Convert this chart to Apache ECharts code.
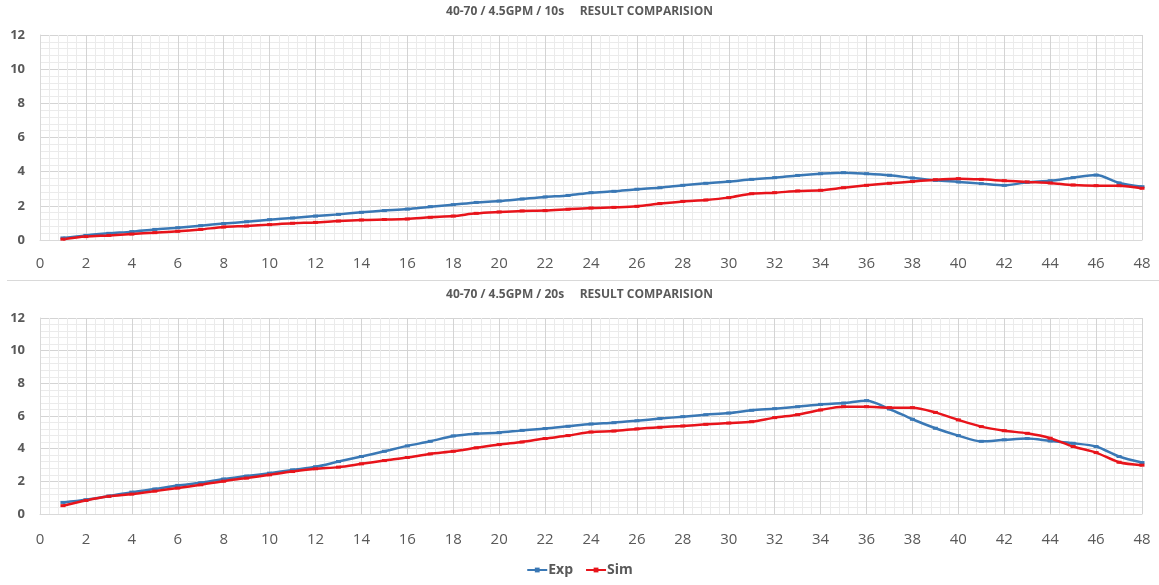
<!DOCTYPE html>
<html>
<head>
<meta charset="utf-8">
<script src="https://cdn.jsdelivr.net/npm/echarts@6/dist/echarts.min.js"></script>
<style>
html,body{margin:0;padding:0;background:#fff;}
#c{width:1159px;height:585px;}
</style>
</head>
<body>
<div id="c"></div>
<script>
var xs = [1,2,3,4,5,6,7,8,9,10,11,12,13,14,15,16,17,18,19,20,21,22,23,24,25,26,27,28,29,30,31,32,33,34,35,36,37,38,39,40,41,42,43,44,45,46,47,48];
var title10 = '40-70 / 4.5GPM / 10s     RESULT COMPARISION';
var title20 = '40-70 / 4.5GPM / 20s     RESULT COMPARISION';
var exp10 = [0.12,0.27,0.39,0.49,0.62,0.72,0.84,0.96,1.07,1.19,1.29,1.40,1.50,1.62,1.72,1.81,1.95,2.07,2.20,2.28,2.40,2.52,2.61,2.77,2.85,2.97,3.06,3.20,3.32,3.42,3.55,3.65,3.78,3.88,3.94,3.88,3.79,3.63,3.49,3.40,3.30,3.20,3.38,3.47,3.65,3.80,3.34,3.12];
var sim10 = [0.05,0.20,0.27,0.35,0.43,0.51,0.62,0.76,0.82,0.90,0.98,1.03,1.11,1.17,1.20,1.23,1.33,1.40,1.56,1.64,1.70,1.72,1.80,1.87,1.91,1.97,2.13,2.26,2.34,2.48,2.71,2.77,2.87,2.91,3.06,3.20,3.32,3.42,3.53,3.59,3.55,3.47,3.40,3.34,3.22,3.18,3.18,3.03];
var exp20 = [0.71,0.87,1.10,1.34,1.53,1.75,1.91,2.14,2.32,2.50,2.70,2.89,3.21,3.52,3.84,4.17,4.45,4.78,4.92,4.98,5.12,5.23,5.37,5.51,5.59,5.71,5.84,5.96,6.08,6.18,6.35,6.45,6.57,6.71,6.79,6.94,6.43,5.80,5.25,4.80,4.45,4.54,4.62,4.47,4.33,4.13,3.52,3.15];
var sim20 = [0.51,0.83,1.08,1.22,1.40,1.59,1.79,2.01,2.20,2.40,2.60,2.77,2.87,3.07,3.27,3.46,3.68,3.84,4.05,4.25,4.41,4.62,4.80,5.02,5.08,5.21,5.31,5.39,5.49,5.57,5.65,5.90,6.08,6.37,6.57,6.57,6.51,6.51,6.22,5.76,5.35,5.10,4.94,4.64,4.13,3.76,3.17,2.99];

function pairs(ys){ return xs.map(function(x,i){ return [x, ys[i]]; }); }

var FONT = '"Open Sans","Noto Sans",sans-serif';
var BLUE = '#3a78b5';
var RED = '#e8141b';

function xAxis(gi, margin){
  return {
    type:'value', gridIndex:gi, min:0, max:48, interval:2,
    axisLine:{show:true, lineStyle:{color:'#d9d9d9'}},
    axisTick:{show:false},
    axisLabel:{color:'#595959', fontSize:15, fontFamily:FONT, margin:margin},
    splitLine:{show:true, lineStyle:{color:'#d4d4d4', width:1}},
    minorTick:{show:false, splitNumber:5},
    minorSplitLine:{show:true, lineStyle:{color:'#ebebeb', width:1}}
  };
}
function yAxis(gi){
  return {
    type:'value', gridIndex:gi, min:0, max:12, interval:2,
    axisLine:{show:true, lineStyle:{color:'#d9d9d9'}},
    axisTick:{show:false},
    axisLabel:{color:'#595959', fontSize:13, fontWeight:'bold', fontFamily:FONT, margin:15},
    splitLine:{show:true, lineStyle:{color:'#d4d4d4', width:1}},
    minorTick:{show:false, splitNumber:5},
    minorSplitLine:{show:true, lineStyle:{color:'#ebebeb', width:1}}
  };
}
function line(name, data, color, gi){
  return {
    name:name, type:'line', xAxisIndex:gi, yAxisIndex:gi, data:pairs(data),
    smooth:0.3, symbol:'rect', symbolSize:[5,3], showSymbol:true,
    lineStyle:{color:color, width:2.5},
    itemStyle:{color:color},
    emphasis:{disabled:true}, animation:false
  };
}

var chart = echarts.init(document.getElementById('c'), null, {renderer:'canvas'});
chart.setOption({
  backgroundColor:'#ffffff',
  animation:false,
  title:[
    {text:title10, left:'center', top:1, textStyle:{fontSize:12, fontWeight:'bold', color:'#595959', fontFamily:FONT}},
    {text:title20, left:'center', top:284, textStyle:{fontSize:12, fontWeight:'bold', color:'#595959', fontFamily:FONT}}
  ],
  grid:[
    {left:40, top:35, right:17, height:205},
    {left:40, top:318, right:17, height:196}
  ],
  xAxis:[xAxis(0,16), xAxis(1,18)],
  yAxis:[yAxis(0), yAxis(1)],
  legend:{
    data:['Exp','Sim'], bottom:3, left:'center', itemWidth:20, itemHeight:6, itemGap:12,
    textStyle:{fontSize:14, fontWeight:'bold', color:'#595959', fontFamily:FONT, padding:[0,0,0,-4]}
  },
  graphic:[
    {type:'line', shape:{x1:7, y1:280.5, x2:1159, y2:280.5}, style:{stroke:'#d9d9d9', lineWidth:1}, silent:true}
  ],
  series:[
    line('Exp', exp10, BLUE, 0),
    line('Sim', sim10, RED, 0),
    line('Exp', exp20, BLUE, 1),
    line('Sim', sim20, RED, 1)
  ]
});
</script>
</body>
</html>
